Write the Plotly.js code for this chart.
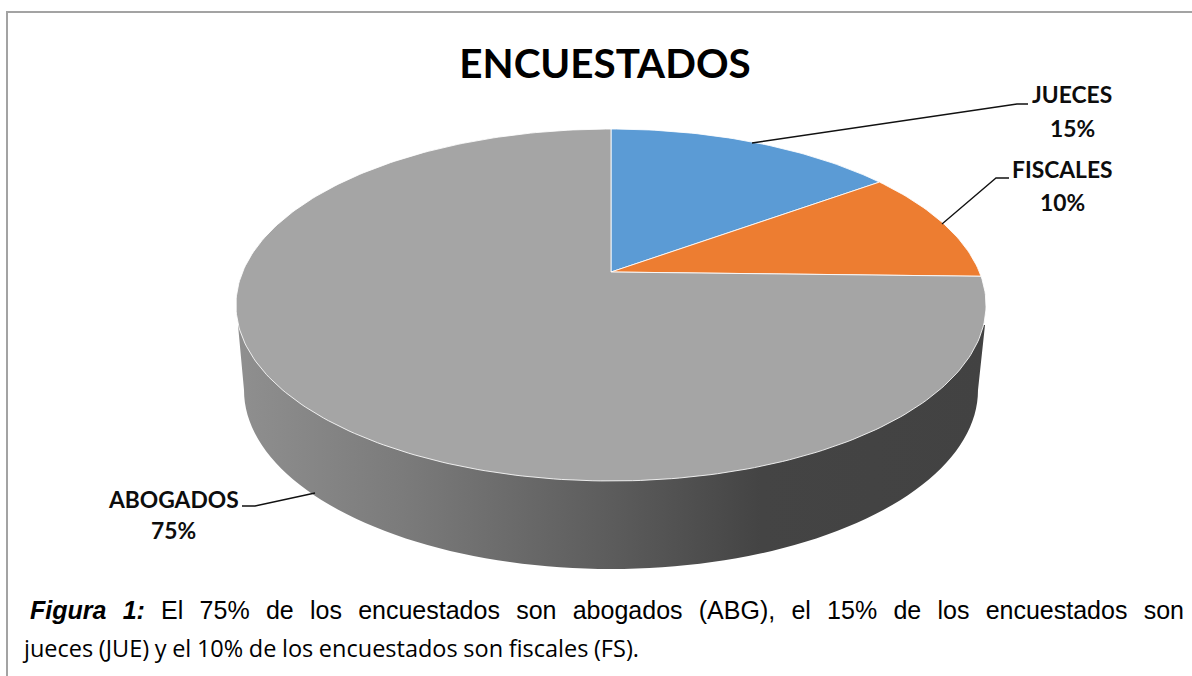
<!DOCTYPE html>
<html>
<head>
<meta charset="utf-8">
<script src="https://cdn.plot.ly/plotly-3.0.1.min.js"></script>
<style>html,body{margin:0;padding:0;background:#fff}#chart{width:1192px;height:676px}</style>
</head>
<body>
<div id="chart"></div>
<script>
// Data
const categories = ['JUECES', 'FISCALES', 'ABOGADOS'];
const shares = [15, 10.4, 74.6];
const sliceColors = ['#5b9bd5', '#ed7d31', '#a5a5a5'];

// Text
const chartTitle = 'ENCUESTADOS';
const captionLines = [
  '<b><i>Figura 1:</i></b> El 75% de los encuestados son abogados (ABG), el 15% de los encuestados son',
  'jueces (JUE) y el 10% de los encuestados son fiscales (FS).'
];

// Label placement per category (pixel axis)
const labelX = [1072, 1062, 173];
const nameY = [94, 169, 499];
const pctY = [128, 202, 530];
const leaderX = [[752, 1017, 1028], [942, 996, 1009], [315, 255, 242]];
const leaderY = [[143, 104, 104], [224, 178, 178], [493, 506, 506]];

// Perspective of the pie disc
const apexX = 611, apexY = 272, rimA = 368.4, rimC = -118.8, rimP = 0.1875;
function rim(deg) {
  const t = deg * Math.PI / 180, d = 1 + rimP * Math.cos(t);
  return [apexX + rimA * Math.sin(t) / d, (apexY + rimC * Math.cos(t)) / d];
}

const traces = [];

// Side wall with horizontal shading
const wallX = [], wallY = [];
for (let a = 0; a <= 180; a += 2) {
  wallX.push(611 + 367 * Math.cos(a * Math.PI / 180));
  wallY.push(390 + 179 * Math.sin(a * Math.PI / 180));
}
wallX.push(238, 985); wallY.push(325, 325);
traces.push({
  type: 'scatter', mode: 'none', x: wallX, y: wallY, fill: 'toself',
  fillgradient: {type: 'horizontal', colorscale: [
    [0, '#8f8f8f'], [0.22, '#7b7b7b'], [0.5, '#5c5c5c'], [0.7, '#444444'], [1, '#424242']
  ]},
  hoverinfo: 'skip'
});

// Slices, computed from the shares
const total = shares.reduce((s, v) => s + v, 0);
let start = 0;
categories.forEach((name, i) => {
  const sweep = shares[i] / total * 360;
  const xs = [apexX], ys = [apexY];
  const steps = Math.ceil(sweep);
  for (let k = 0; k <= steps; k++) {
    const p = rim(start + sweep * k / steps);
    xs.push(p[0]); ys.push(p[1]);
  }
  xs.push(apexX); ys.push(apexY);
  traces.push({
    type: 'scatter', mode: 'lines', x: xs, y: ys, fill: 'toself', fillcolor: sliceColors[i],
    line: {color: 'rgba(255,255,255,0.85)', width: 1}, name: name, hoverinfo: 'name'
  });
  start += sweep;
});

// Leader lines
categories.forEach((name, i) => {
  traces.push({
    type: 'scatter', mode: 'lines', x: leaderX[i], y: leaderY[i],
    line: {color: '#111111', width: 1.3}, hoverinfo: 'skip'
  });
});

const labelFont = {family: 'Lato, Carlito, sans-serif', size: 22.8, color: '#0d0d0d'};
const annotations = [];
categories.forEach((name, i) => {
  annotations.push({xref: 'x', yref: 'y', x: labelX[i], y: nameY[i], text: '<b>' + name + '</b>',
    showarrow: false, xanchor: 'center', yanchor: 'middle', font: labelFont});
  annotations.push({xref: 'x', yref: 'y', x: labelX[i], y: pctY[i], text: '<b>' + Math.round(shares[i]) + '%</b>',
    showarrow: false, xanchor: 'center', yanchor: 'middle', font: labelFont});
});
const captionX = [28, 20], captionY = [610, 648], captionEnd = [1184, 637];
const captionFonts = [
  {family: '"Liberation Sans", Arial, sans-serif', size: 25, color: '#000000'},
  {family: '"Open Sans", sans-serif', size: 23.5, color: '#000000'}
];
const captionStart = annotations.length;
captionLines.forEach((line, i) => {
  annotations.push({xref: 'x', yref: 'y', x: captionX[i], y: captionY[i], text: line, showarrow: false,
    xanchor: 'left', yanchor: 'middle', align: 'left', font: captionFonts[i]});
});

const layout = {
  width: 1192, height: 676,
  margin: {l: 0, r: 0, t: 0, b: 0},
  paper_bgcolor: '#ffffff', plot_bgcolor: '#ffffff',
  showlegend: false,
  title: {text: '<b>' + chartTitle + '</b>', x: 605 / 1192, xanchor: 'center', y: 1 - 64 / 676, yanchor: 'middle',
    font: {family: 'Lato, Carlito, sans-serif', size: 40.4, color: '#000000'}},
  xaxis: {range: [0, 1192], visible: false, fixedrange: true},
  yaxis: {range: [676, 0], visible: false, fixedrange: true},
  shapes: [
    {type: 'line', xref: 'x', yref: 'y', x0: 7, x1: 7, y0: 11, y1: 676, line: {color: '#a3a3a3', width: 2}},
    {type: 'line', xref: 'x', yref: 'y', x0: 6, x1: 1192, y0: 12, y1: 12, line: {color: '#a3a3a3', width: 2}}
  ],
  annotations: annotations
};

Plotly.newPlot('chart', traces, layout, {displayModeBar: false, staticPlot: true}).then(() => {
  // Justify the caption lines to the widths they have in the reference
  captionLines.forEach((line, i) => {
    const g = document.querySelector('#chart .annotation[data-index="' + (captionStart + i) + '"] text.annotation-text');
    if (!g) return;
    const spaces = g.textContent.split(' ').length - 1;
    const w = g.getComputedTextLength();
    g.style.wordSpacing = ((captionEnd[i] - captionX[i] - 2 - w) / spaces) + 'px';
  });
});
</script>
</body>
</html>
